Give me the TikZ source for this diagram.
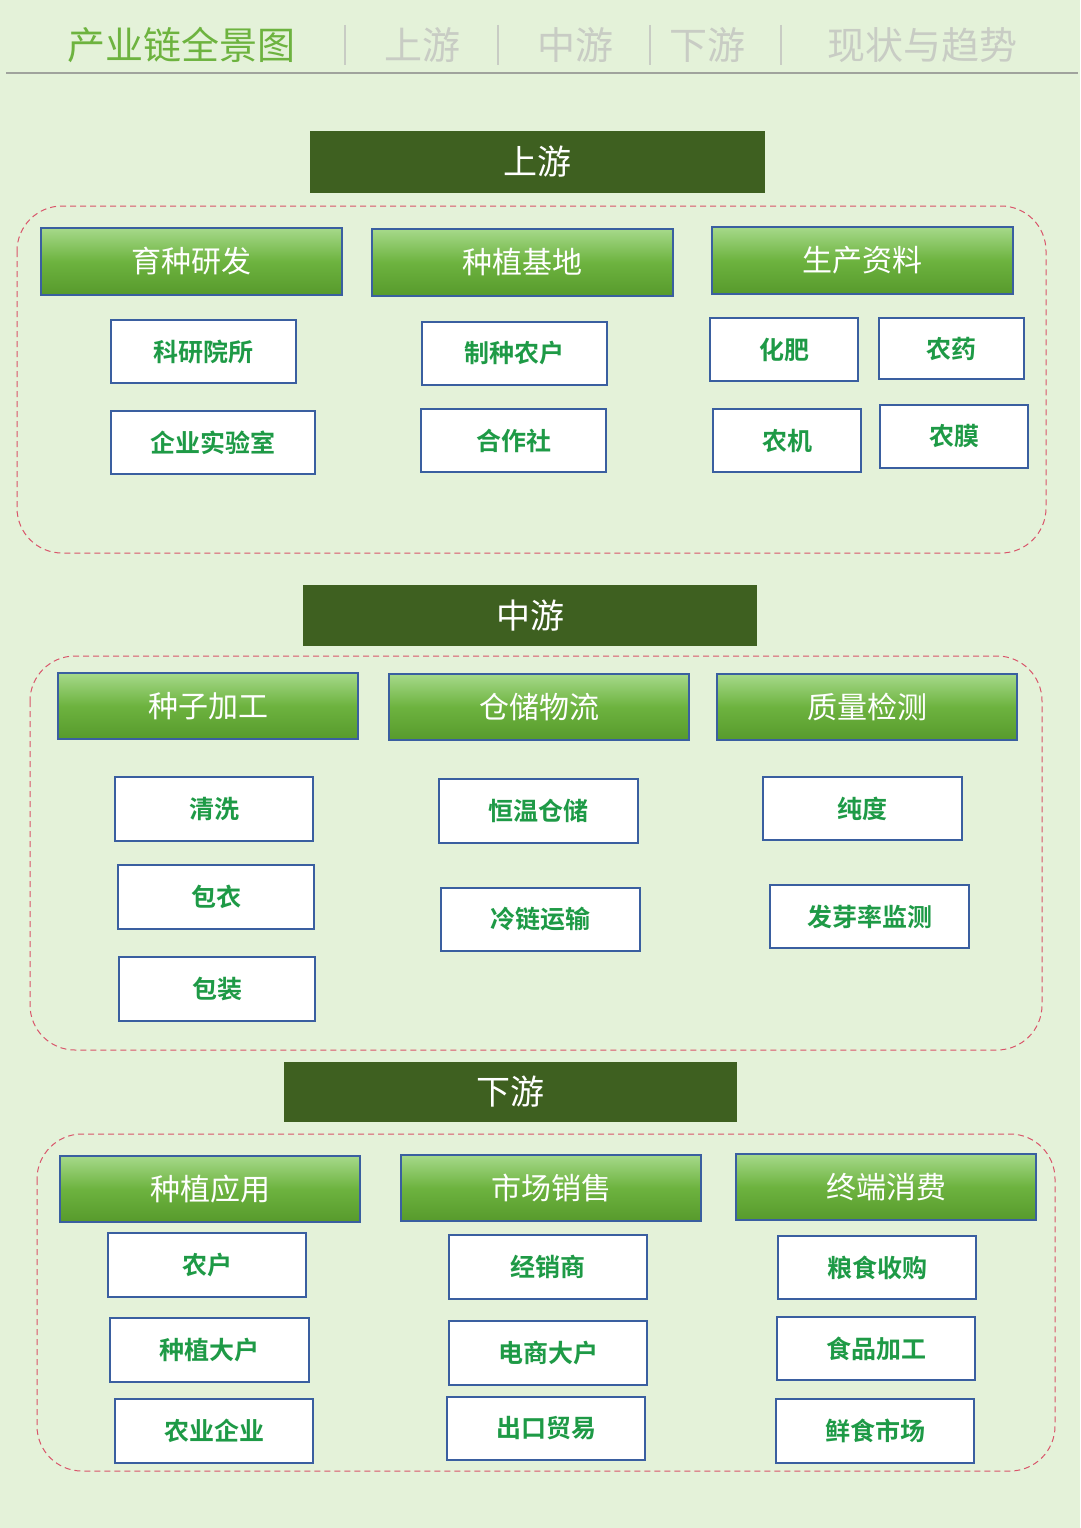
\documentclass[tikz,border=0pt]{standalone}
\usepackage{fontspec}
\setmainfont{Noto Sans CJK SC}
\newfontfamily\cjkb{Noto Sans CJK SC Bold}
\definecolor{bg}{HTML}{E4F2D9}
\definecolor{hdr}{HTML}{3E6020}
\definecolor{gtop}{HTML}{A6D98A}
\definecolor{gmid}{HTML}{6DB33F}
\definecolor{gbot}{HTML}{579A2C}
\definecolor{bord}{HTML}{3A5FA0}
\definecolor{itxt}{HTML}{1E9A46}
\definecolor{dash}{HTML}{D9556A}
\definecolor{ttl}{HTML}{6DB33F}
\definecolor{gr}{HTML}{C8CCC4}
\tikzset{
 hdrbox/.style={fill=hdr,text=white,font=\fontsize{34}{40}\selectfont},
 catbox/.style={draw=bord,line width=1.2pt,top color=gtop,bottom color=gbot,middle color=gmid,text=white,font=\fontsize{30}{36}\selectfont},
 itembox/.style={draw=bord,line width=1.2pt,fill=white,text=itxt,font=\cjkb\fontsize{25}{30}\selectfont},
 region/.style={draw=dash,dashed,line width=1pt,rounded corners=45pt,dash pattern=on 6pt off 4pt},
}
\newcommand\bx[7]{\node[#6,inner sep=0pt,minimum width={(#4-#2)*1pt},minimum height={(#5-#3)*1pt}] (#1) at ({(#2+#4)/2},{-(#3+#5)/2}) {#7};}
\begin{document}
\begin{tikzpicture}[x=1pt,y=1pt]
\fill[bg] (0,0) rectangle (1080,-1528);
\useasboundingbox (0,0) rectangle (1080,-1528);
\draw[gr!80!black,line width=2.5pt] (6,-73) -- (1078,-73);
\node[text=ttl,font=\fontsize{38}{44}\selectfont,anchor=center] (t0) at (181,-45) {产业链全景图};
\foreach \x in {345,498,650,781} \draw[gr,line width=1.5pt] (\x,-25) -- (\x,-65);
\node[text=gr,font=\fontsize{38}{44}\selectfont] (t1) at (422,-45) {上游};
\node[text=gr,font=\fontsize{38}{44}\selectfont] (t2) at (575,-45) {中游};
\node[text=gr,font=\fontsize{38}{44}\selectfont] (t3) at (707,-45) {下游};
\node[text=gr,font=\fontsize{38}{44}\selectfont] (t4) at (922,-45) {现状与趋势};
% regions
\draw[region] (17,-206) rectangle (1046,-553);
\draw[region] (30,-656) rectangle (1042,-1050);
\draw[region] (37,-1134) rectangle (1055,-1471);
% upstream
\bx{h1}{310}{131}{765}{193}{hdrbox}{上游}
\bx{c11}{41}{228}{342}{295}{catbox}{育种研发}
\bx{c12}{372}{229}{673}{296}{catbox}{种植基地}
\bx{c13}{712}{227}{1013}{294}{catbox}{生产资料}
\bx{i1}{111}{320}{296}{383}{itembox}{科研院所}
\bx{i2}{111}{411}{315}{474}{itembox}{企业实验室}
\bx{i3}{422}{322}{607}{385}{itembox}{制种农户}
\bx{i4}{421}{409}{606}{472}{itembox}{合作社}
\bx{i5}{710}{318}{858}{381}{itembox}{化肥}
\bx{i6}{879}{318}{1024}{379}{itembox}{农药}
\bx{i7}{713}{409}{861}{472}{itembox}{农机}
\bx{i8}{880}{405}{1028}{468}{itembox}{农膜}
% midstream
\bx{h2}{303}{585}{757}{646}{hdrbox}{中游}
\bx{c21}{58}{673}{358}{739}{catbox}{种子加工}
\bx{c22}{389}{674}{689}{740}{catbox}{仓储物流}
\bx{c23}{717}{674}{1017}{740}{catbox}{质量检测}
\bx{j1}{115}{777}{313}{841}{itembox}{清洗}
\bx{j2}{118}{865}{314}{929}{itembox}{包衣}
\bx{j3}{119}{957}{315}{1021}{itembox}{包装}
\bx{j4}{439}{779}{638}{843}{itembox}{恒温仓储}
\bx{j5}{441}{888}{640}{951}{itembox}{冷链运输}
\bx{j6}{763}{777}{962}{840}{itembox}{纯度}
\bx{j7}{770}{885}{969}{948}{itembox}{发芽率监测}
% downstream
\bx{h3}{284}{1062}{737}{1122}{hdrbox}{下游}
\bx{c31}{60}{1156}{360}{1222}{catbox}{种植应用}
\bx{c32}{401}{1155}{701}{1221}{catbox}{市场销售}
\bx{c33}{736}{1154}{1036}{1220}{catbox}{终端消费}
\bx{k1}{108}{1233}{306}{1297}{itembox}{农户}
\bx{k2}{110}{1318}{309}{1382}{itembox}{种植大户}
\bx{k3}{115}{1399}{313}{1463}{itembox}{农业企业}
\bx{k4}{449}{1235}{647}{1299}{itembox}{经销商}
\bx{k5}{449}{1321}{647}{1385}{itembox}{电商大户}
\bx{k6}{447}{1397}{645}{1460}{itembox}{出口贸易}
\bx{k7}{778}{1236}{976}{1299}{itembox}{粮食收购}
\bx{k8}{777}{1317}{975}{1380}{itembox}{食品加工}
\bx{k9}{776}{1399}{974}{1463}{itembox}{鲜食市场}
\end{tikzpicture}
\end{document}
